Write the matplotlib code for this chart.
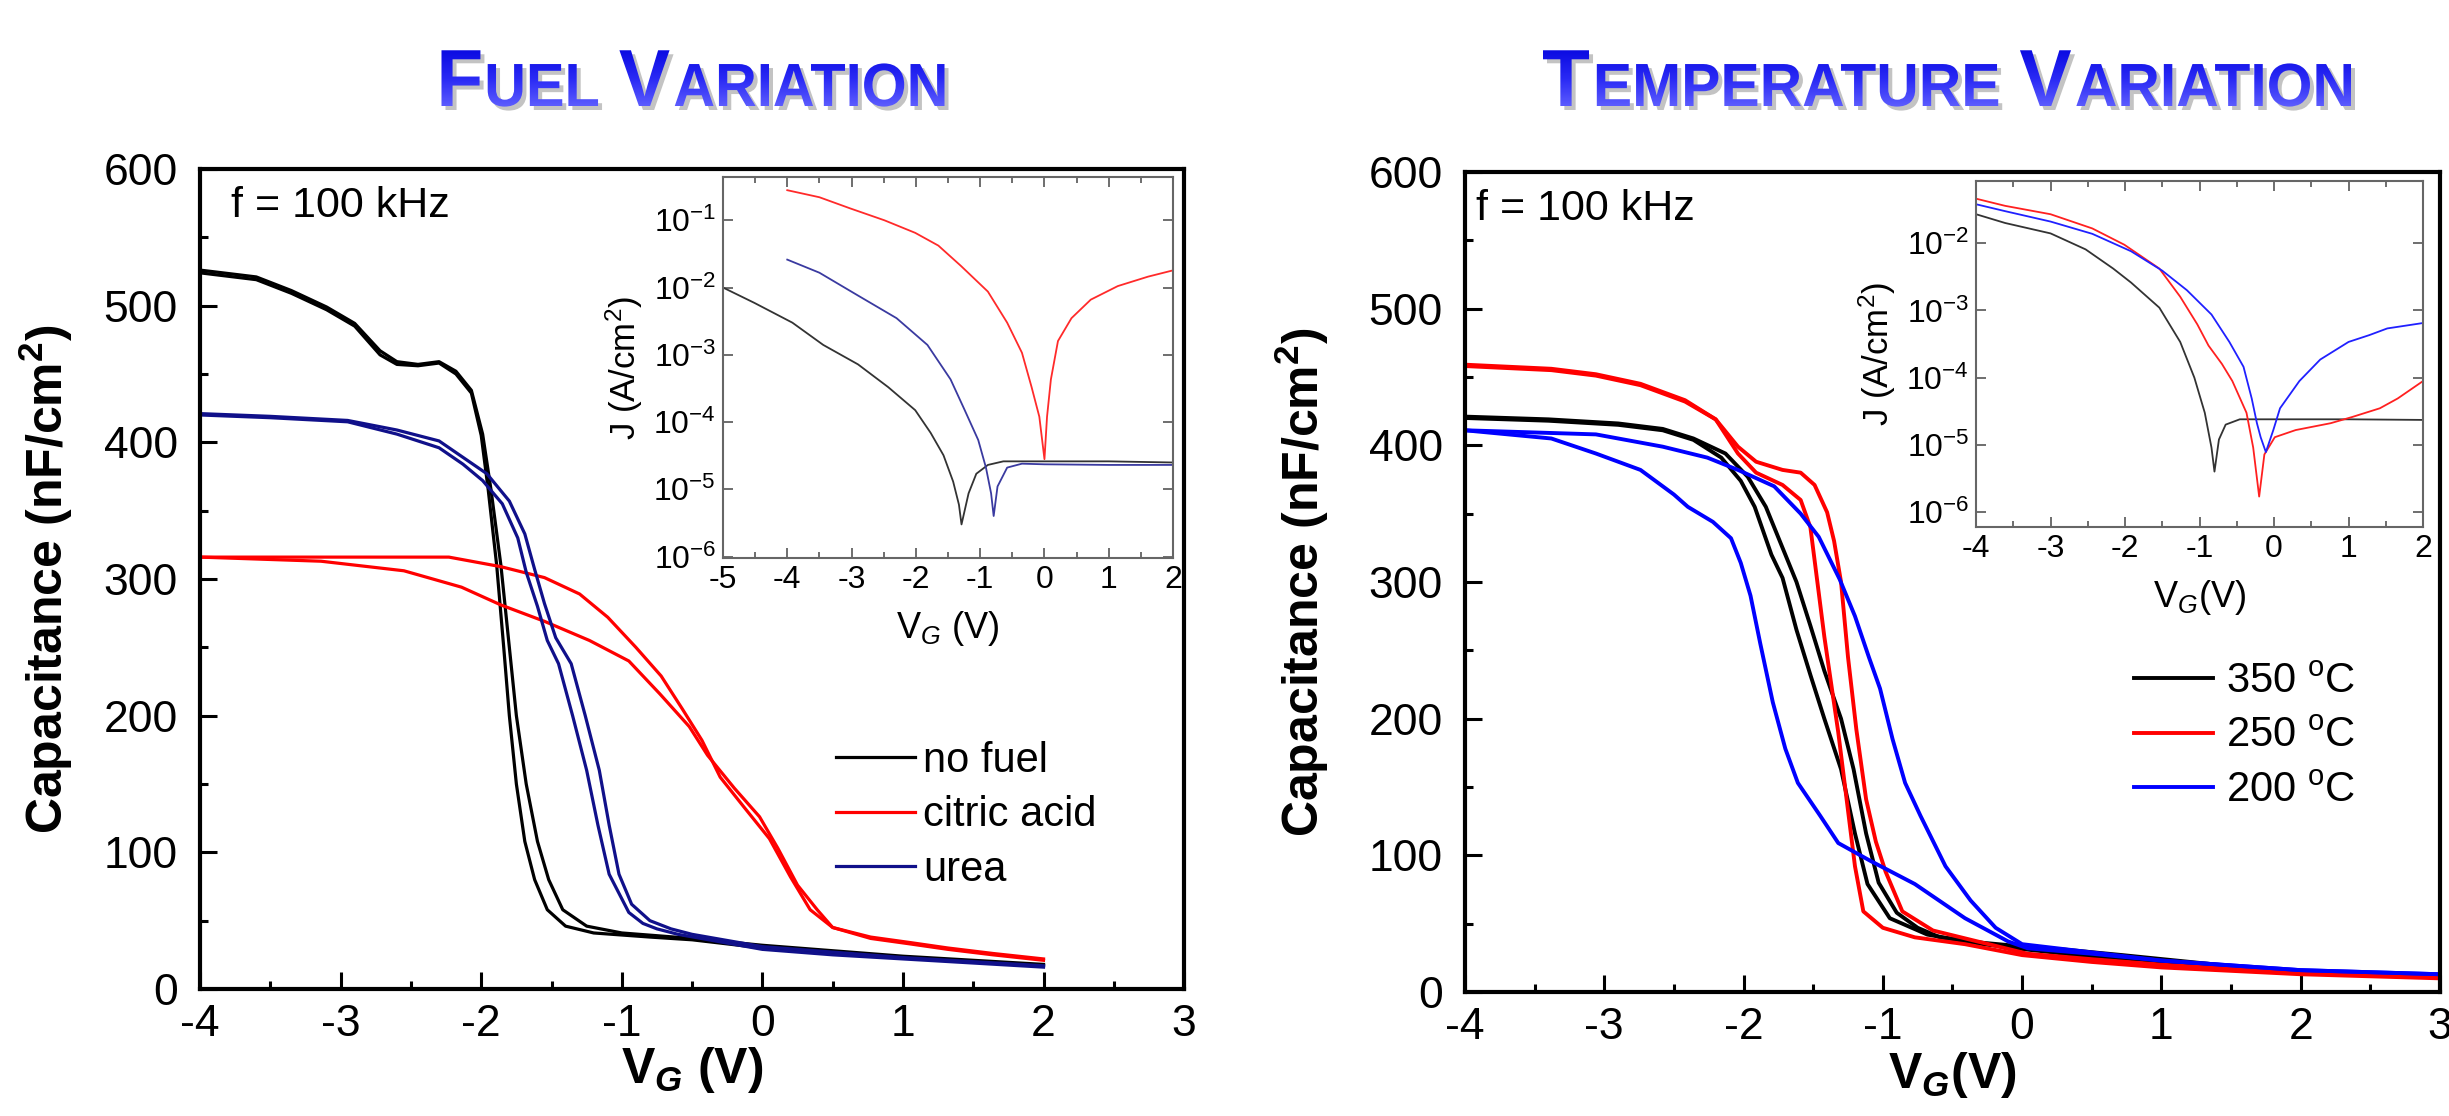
import numpy as np
import matplotlib
matplotlib.use('Agg')
import matplotlib.pyplot as plt
from matplotlib.ticker import MultipleLocator, LogLocator, LogFormatterMathtext, NullLocator
from matplotlib.textpath import TextPath
from matplotlib.patches import PathPatch
from matplotlib.font_manager import FontProperties
from matplotlib.transforms import Affine2D
from matplotlib.path import Path
from matplotlib.colors import LinearSegmentedColormap

plt.rcParams['font.family'] = ['Liberation Sans', 'DejaVu Sans']
plt.rcParams['mathtext.fontset'] = 'custom'
plt.rcParams['mathtext.rm'] = 'Liberation Sans'
plt.rcParams['mathtext.it'] = 'Liberation Sans:italic'
plt.rcParams['mathtext.bf'] = 'Liberation Sans:bold'
plt.rcParams['mathtext.bfit'] = 'Liberation Sans:bold:italic'
plt.rcParams['axes.unicode_minus'] = False

# ---------------- left panel: fuel variation, C-V loops (two sweeps each) ----------------
nofuel_v_a = [-4.0, -3.6, -3.35, -3.1, -2.9, -2.72, -2.6, -2.45, -2.3, -2.18, -2.07, -1.99, -1.93, -1.86,
              -1.80, -1.75, -1.68, -1.60, -1.52, -1.42, -1.25, -1.0, -0.5, 0.0, 0.5, 1.0, 1.5, 2.0]
nofuel_c_a = [526, 521, 511, 499, 487, 467, 459, 457, 459, 452, 438, 406, 365, 310,
              250, 200, 150, 108, 80, 58, 46, 41, 37, 32, 28, 24, 21, 18]
nofuel_v_b = [-4.0, -3.6, -3.35, -3.1, -2.9, -2.72, -2.6, -2.45, -2.3, -2.18, -2.07, -2.0, -1.95, -1.89,
              -1.84, -1.80, -1.75, -1.69, -1.62, -1.53, -1.40, -1.2, -0.8, -0.5, 0.0, 0.5, 1.0, 1.5, 2.0]
nofuel_c_b = [524, 519, 509, 497, 485, 464, 457, 456, 458, 450, 436, 405, 365, 310,
              250, 200, 150, 108, 80, 58, 46, 41, 38, 36, 30, 26, 23, 20, 17]

citric_v_a = [-4.0, -3.0, -2.55, -2.23, -1.86, -1.55, -1.3, -1.1, -0.9, -0.72, -0.57, -0.43, -0.3,
              -0.13, 0.05, 0.2, 0.34, 0.5, 0.77, 1.05, 1.32, 1.64, 2.0]
citric_c_a = [316, 316, 316, 316, 309, 301, 289, 272, 250, 229, 205, 182, 155,
              133, 110, 82, 58, 45, 38, 34, 30, 26, 22]
citric_v_b = [-4.0, -3.14, -2.55, -2.14, -1.86, -1.55, -1.23, -0.95, -0.73, -0.52, -0.39, -0.2, -0.02,
              0.11, 0.25, 0.39, 0.5, 0.77, 1.05, 1.32, 1.64, 2.0]
citric_c_b = [316, 313, 306, 294, 281, 269, 255, 240, 216, 192, 171, 147, 126,
              103, 76, 58, 45, 37, 33, 29, 25, 21]

urea_v_a = [-4.0, -3.5, -2.95, -2.6, -2.3, -2.13, -1.96, -1.80, -1.69, -1.62, -1.55, -1.47, -1.36, -1.26,
            -1.16, -1.09, -1.02, -0.93, -0.8, -0.65, -0.5, 0.0, 0.5, 1.0, 1.5, 2.0]
urea_c_a = [421, 419, 416, 409, 401, 389, 377, 357, 333, 307, 282, 257, 238, 200,
            160, 120, 84, 62, 50, 44, 40, 31, 27, 23, 20, 17]
urea_v_b = [-4.0, -3.5, -2.95, -2.6, -2.3, -2.13, -1.99, -1.85, -1.74, -1.68, -1.60, -1.53, -1.45, -1.35,
            -1.25, -1.17, -1.09, -1.02, -0.95, -0.85, -0.75, -0.6, 0.0, 0.5, 1.0, 1.5, 2.0]
urea_c_b = [420, 418, 415, 406, 396, 384, 372, 355, 330, 305, 280, 255, 238, 200,
            160, 120, 84, 70, 56, 48, 44, 40, 29, 25, 22, 19, 16]

# left inset: J-V
nofuel_jv = [-5.0, -4.51, -3.92, -3.44, -2.9, -2.43, -2.01, -1.77, -1.57, -1.42, -1.33, -1.29, -1.18,
             -1.06, -0.88, -0.64, 0.0, 1.0, 2.0]
nofuel_j = [1.0e-2, 5.9e-3, 3.0e-3, 1.4e-3, 7.2e-4, 3.3e-4, 1.5e-4, 6.9e-5, 3.2e-5, 1.3e-5, 5.9e-6, 3.0e-6,
            8.7e-6, 1.7e-5, 2.3e-5, 2.6e-5, 2.6e-5, 2.6e-5, 2.5e-5]
citric_jv = [-4.0, -3.5, -3.02, -2.49, -2.01, -1.65, -1.3, -0.88, -0.58, -0.35, -0.2, -0.08, 0.0, 0.04,
             0.1, 0.21, 0.42, 0.72, 1.14, 1.61, 2.0]
citric_j = [0.28, 0.22, 0.15, 0.10, 6.5e-2, 4.2e-2, 2.1e-2, 8.7e-3, 3.0e-3, 1.07e-3, 3.3e-4, 1.2e-4, 2.8e-5,
            1.2e-4, 4.3e-4, 1.6e-3, 3.5e-3, 6.6e-3, 1.05e-2, 1.45e-2, 1.8e-2]
urea_jv = [-4.0, -3.5, -2.9, -2.3, -1.82, -1.46, -1.24, -1.03, -0.91, -0.83, -0.79, -0.73, -0.58, -0.35,
           0.0, 1.0, 2.0]
urea_j = [2.6e-2, 1.66e-2, 7.6e-3, 3.5e-3, 1.4e-3, 4.3e-4, 1.5e-4, 5.4e-5, 2.1e-5, 8.7e-6, 4.0e-6, 1.1e-5,
          2.1e-5, 2.4e-5, 2.35e-5, 2.3e-5, 2.3e-5]

# ---------------- right panel: temperature variation ----------------
t350_v_a = [-4.0, -3.4, -2.9, -2.58, -2.36, -2.13, -1.97, -1.84, -1.72, -1.62, -1.52, -1.42, -1.30,
            -1.21, -1.12, -1.03, -0.9, -0.75, -0.59, -0.28, 0.04, 0.31, 0.72, 1.4, 2.0, 3.0]
t350_c_a = [421, 419, 416, 412, 405, 394, 377, 355, 325, 300, 268, 235, 200,
            163, 116, 80, 58, 47, 40, 36, 33, 31, 27, 20, 15, 12]
t350_v_b = [-4.0, -3.4, -2.9, -2.58, -2.36, -2.16, -2.02, -1.92, -1.8, -1.72, -1.62, -1.52, -1.42,
            -1.30, -1.20, -1.11, -0.95, -0.68, -0.28, 0.04, 0.4, 0.8, 1.4, 2.0, 3.0]
t350_c_b = [420, 418, 415, 411, 404, 391, 374, 355, 320, 303, 265, 232, 200,
            163, 116, 79, 54, 42, 35, 31, 27, 24, 19, 15, 12]

t250_v_a = [-4.0, -3.38, -3.06, -2.74, -2.42, -2.2, -2.04, -1.91, -1.72, -1.59, -1.49, -1.40, -1.35,
            -1.30, -1.25, -1.19, -1.12, -1.05, -0.98, -0.86, -0.64, -0.32, 0.04, 0.5, 1.0, 2.0, 3.0]
t250_c_a = [459, 456, 452, 445, 433, 419, 399, 388, 382, 380, 371, 351, 330,
            300, 245, 192, 141, 110, 88, 59, 45, 37, 28, 24, 20, 14, 11]
t250_v_b = [-4.0, -3.38, -3.06, -2.74, -2.42, -2.2, -2.04, -1.91, -1.72, -1.59, -1.52, -1.47, -1.42,
            -1.37, -1.32, -1.26, -1.20, -1.14, -1.0, -0.77, -0.41, 0.0, 0.5, 1.0, 2.0, 3.0]
t250_c_b = [458, 455, 451, 444, 432, 419, 394, 380, 371, 360, 340, 300, 260,
            225, 190, 141, 92, 59, 47, 40, 35, 27, 22, 18, 13, 10]

t200_v_a = [-4.0, -3.06, -2.58, -2.26, -2.04, -1.78, -1.59, -1.46, -1.31, -1.2, -1.1, -1.02, -0.93,
            -0.84, -0.73, -0.55, -0.37, -0.19, 0.0, 0.5, 1.0, 2.0, 3.0]
t200_c_a = [411, 408, 399, 391, 382, 370, 350, 333, 302, 275, 245, 222, 185,
            153, 129, 92, 67, 47, 35, 29, 23, 16, 13]
t200_v_b = [-4.0, -3.38, -3.06, -2.74, -2.5, -2.4, -2.22, -2.09, -2.02, -1.95, -1.88, -1.79, -1.70,
            -1.61, -1.45, -1.32, -1.09, -0.77, -0.41, -0.1, 0.04, 0.5, 1.0, 2.0, 3.0]
t200_c_b = [411, 405, 394, 382, 364, 355, 344, 332, 314, 290, 255, 212, 178,
            153, 129, 109, 96, 79, 54, 37, 32, 28, 23, 16, 13]

# right inset: J-V
t350_jv = [-4.0, -3.61, -3.0, -2.53, -2.16, -1.92, -1.54, -1.26, -1.07, -0.93, -0.84, -0.8, -0.74, -0.65,
           -0.46, 0.0, 1.0, 2.0]
t350_j = [2.7e-2, 2.0e-2, 1.4e-2, 8.1e-3, 4.2e-3, 2.6e-3, 1.1e-3, 3.4e-4, 1.0e-4, 3.0e-5, 9.1e-6, 4.0e-6,
          1.2e-5, 2.0e-5, 2.4e-5, 2.4e-5, 2.4e-5, 2.35e-5]
t250_jv = [-4.0, -3.61, -3.0, -2.44, -2.01, -1.54, -1.26, -1.03, -0.88, -0.7, -0.56, -0.37, -0.28, -0.2,
           -0.13, 0.01, 0.29, 0.76, 1.05, 1.42, 1.66, 2.0]
t250_j = [4.6e-2, 3.6e-2, 2.7e-2, 1.66e-2, 9.5e-3, 4.2e-3, 1.6e-3, 6.2e-4, 3.0e-4, 1.6e-4, 8.9e-5, 3.0e-5,
          9.1e-6, 1.7e-6, 7.2e-6, 1.3e-5, 1.66e-5, 2.1e-5, 2.6e-5, 3.5e-5, 4.9e-5, 8.9e-5]
t200_jv = [-4.0, -3.61, -3.0, -2.44, -1.92, -1.5, -1.17, -0.84, -0.6, -0.41, -0.3, -0.23, -0.18, -0.11,
           -0.01, 0.08, 0.34, 0.62, 1.0, 1.28, 1.52, 2.0]
t200_j = [3.8e-2, 3.0e-2, 2.1e-2, 1.38e-2, 7.6e-3, 3.9e-3, 2.0e-3, 8.7e-4, 3.4e-4, 1.45e-4, 4.9e-5, 2.1e-5,
          1.3e-5, 7.8e-6, 1.66e-5, 3.5e-5, 8.9e-5, 1.86e-4, 3.4e-4, 4.3e-4, 5.4e-4, 6.5e-4]

fuel_labels = ['no fuel', 'citric acid', 'urea']
temp_labels = ['350 $^{\\rm o}$C', '250 $^{\\rm o}$C', '200 $^{\\rm o}$C']

fig = plt.figure(figsize=(24.49, 11.16), dpi=100)
fig.patch.set_facecolor('white')


def style_main(ax):
    ax.set_xlim(-4, 3)
    ax.set_ylim(0, 600)
    ax.xaxis.set_major_locator(MultipleLocator(1))
    ax.xaxis.set_minor_locator(MultipleLocator(0.5))
    ax.yaxis.set_major_locator(MultipleLocator(100))
    ax.yaxis.set_minor_locator(MultipleLocator(50))
    ax.tick_params(which='both', direction='in', top=False, right=False, width=2.2)
    ax.tick_params(which='major', length=12, labelsize=32)
    ax.tick_params(which='minor', length=6)
    ax.tick_params(axis='y', pad=16)
    ax.tick_params(axis='x', pad=11)
    for s in ax.spines.values():
        s.set_linewidth(3)
    ax.set_ylabel('Capacitance (nF/cm$^\\mathbf{2}$)', fontsize=36, fontweight='bold')


def style_inset(ax, xmin, ymin, ymax):
    ax.set_yscale('log')
    ax.set_xlim(xmin, 2)
    ax.set_ylim(ymin, ymax)
    ax.xaxis.set_major_locator(MultipleLocator(1))
    ax.xaxis.set_minor_locator(MultipleLocator(0.5))
    ax.yaxis.set_major_locator(LogLocator(base=10, numticks=12))
    ax.yaxis.set_major_formatter(LogFormatterMathtext())
    ax.yaxis.set_minor_locator(NullLocator())
    ax.tick_params(which='both', direction='in', top=True, right=True, color='#555555', width=1.2)
    ax.tick_params(which='major', length=7, labelsize=23, pad=5)
    ax.tick_params(which='minor', length=4)
    for s in ax.spines.values():
        s.set_linewidth(1.5)
        s.set_color('#666666')


# ---- left ----
ax1 = fig.add_axes([0.0817, 0.1138, 0.4018, 0.7348])
l1, = ax1.plot(nofuel_v_a, nofuel_c_a, color='black', lw=2.3)
ax1.plot(nofuel_v_b, nofuel_c_b, color='black', lw=2.3)
l2, = ax1.plot(citric_v_a, citric_c_a, color='#ff0000', lw=2.3)
ax1.plot(citric_v_b, citric_c_b, color='#ff0000', lw=2.3)
l3, = ax1.plot(urea_v_a, urea_c_a, color='#10108a', lw=2.3)
ax1.plot(urea_v_b, urea_c_b, color='#10108a', lw=2.3)
style_main(ax1)
ax1.set_xlabel('V$_\\mathbfit{G}$ (V)', fontsize=36, fontweight='bold')
ax1.yaxis.set_label_coords(-0.127, 0.5)
ax1.xaxis.set_label_coords(0.5, -0.068)
ax1.text(0.031, 0.955, 'f = 100 kHz', transform=ax1.transAxes, fontsize=31, va='center', ha='left')
ax1.legend([l1, l2, l3], fuel_labels, loc='center left', bbox_to_anchor=(0.625, 0.212), frameon=False,
           fontsize=30, handlelength=1.9, handletextpad=0.2, labelspacing=0.35, borderpad=0)

in1 = fig.add_axes([0.2952, 0.500, 0.1838, 0.3414])
in1.plot(nofuel_jv, nofuel_j, color='#333333', lw=1.3)
in1.plot(citric_jv, citric_j, color='#ff2a2a', lw=1.3)
in1.plot(urea_jv, urea_j, color='#3a3aa0', lw=1.3)
style_inset(in1, -5, 9.5e-7, 0.44)
in1.set_ylabel('J (A/cm$^2$)', fontsize=25, labelpad=6)
in1.set_xlabel('V$_G$ (V)', fontsize=26, labelpad=10)

# ---- right ----
ax2 = fig.add_axes([0.5982, 0.1111, 0.3981, 0.7348])
r1, = ax2.plot(t350_v_a, t350_c_a, color='black', lw=2.8)
ax2.plot(t350_v_b, t350_c_b, color='black', lw=2.8)
r2, = ax2.plot(t250_v_a, t250_c_a, color='#ff0000', lw=2.8)
ax2.plot(t250_v_b, t250_c_b, color='#ff0000', lw=2.8)
r3, = ax2.plot(t200_v_a, t200_c_a, color='#0000ff', lw=2.8)
ax2.plot(t200_v_b, t200_c_b, color='#0000ff', lw=2.8)
style_main(ax2)
ax2.set_xlabel('V$_\\mathbfit{G}$(V)', fontsize=36, fontweight='bold')
ax2.yaxis.set_label_coords(-0.137, 0.5)
ax2.xaxis.set_label_coords(0.5, -0.071)
ax2.text(0.011, 0.955, 'f = 100 kHz', transform=ax2.transAxes, fontsize=31, va='center', ha='left')
ax2.legend([r1, r2, r3], temp_labels, loc='center left', bbox_to_anchor=(0.665, 0.312), frameon=False,
           fontsize=30, handlelength=1.9, handletextpad=0.3, labelspacing=0.35, borderpad=0)

in2 = fig.add_axes([0.8069, 0.5278, 0.1825, 0.3096])
in2.plot(t350_jv, t350_j, color='#333333', lw=1.3)
in2.plot(t250_jv, t250_j, color='#ff2020', lw=1.3)
in2.plot(t200_jv, t200_j, color='#2020ff', lw=1.3)
style_inset(in2, -4, 6.0e-7, 0.083)
in2.set_ylabel('J (A/cm$^2$)', fontsize=25, labelpad=6)
in2.set_xlabel('V$_G$(V)', fontsize=26, labelpad=10)

# ---- condensed small-caps titles: gradient fill + drop shadow ----
title_font = FontProperties(family='Liberation Sans', weight='bold')
title_cmap = LinearSegmentedColormap.from_list('title', ['#0808e0', '#2a2af5', '#6464ff'])


def caps_title(xc, base, width, parts):
    verts, codes = [], []
    x = 0.0
    for s, size, gap in parts:
        tp = TextPath((x, 0), s, size=size, prop=title_font)
        verts.append(tp.vertices)
        codes.append(tp.codes)
        x = tp.get_extents().x1 + gap
    path = Path(np.concatenate(verts), np.concatenate(codes))
    ext = path.get_extents()
    sx = width / ext.width
    tr = (Affine2D().translate(-ext.x0, 0).scale(sx, 1).translate(xc - width / 2, base)
          .scale(1.0 / fig.dpi) + fig.dpi_scale_trans)
    shadow = PathPatch(path, transform=tr + Affine2D().translate(4, -4), facecolor='#7a7a7a',
                       edgecolor='none', alpha=0.45)
    fig.add_artist(shadow)
    clip = PathPatch(path, transform=tr, facecolor='none', edgecolor='none')
    fig.add_artist(clip)
    h = int(ext.y1 - ext.y0) + 8
    w = int(width) + 8
    grad = np.linspace(0, 1, h)[::-1].reshape(-1, 1) * np.ones((1, w))
    rgba = title_cmap(grad)
    im = fig.figimage(rgba, xo=int(xc - width / 2) - 4, yo=int(base + ext.y0) - 4, origin='lower', zorder=3)
    im.set_clip_path(clip)


caps_title(693, 1010, 503, [('F', 81, 4), ('UEL', 61, 22), ('V', 81, 4), ('ARIATION', 61, 0)])
caps_title(1947, 1010, 808, [('T', 81, 4), ('EMPERATURE', 61, 22), ('V', 81, 4), ('ARIATION', 61, 0)])

fig.savefig('out.png', dpi=100, facecolor='white')
